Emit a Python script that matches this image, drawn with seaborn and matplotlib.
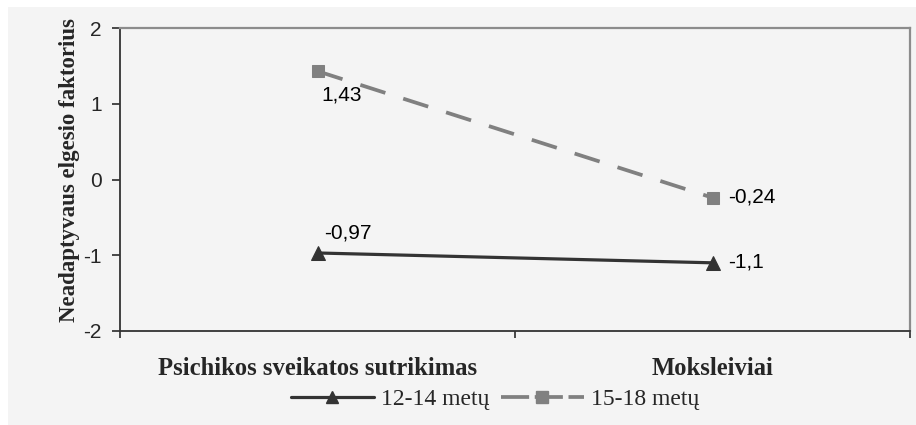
import matplotlib
matplotlib.use("Agg")
import matplotlib.pyplot as plt
import seaborn as sns
import pandas as pd
from matplotlib.lines import Line2D
from matplotlib.patches import Rectangle

categories = ["Psichikos sveikatos sutrikimas", "Moksleiviai"]
series_names = ["12-14 metų", "15-18 metų"]
values_12_14 = [-0.97, -1.1]
values_15_18 = [1.43, -0.24]
labels_12_14 = ["-0,97", "-1,1"]
labels_15_18 = ["1,43", "-0,24"]
y_ticks = [-2, -1, 0, 1, 2]

bg = "#f4f4f4"
W, H = 916, 425
sns.set_theme(style="white")
plt.rcParams["font.family"] = ["Liberation Sans", "DejaVu Sans"]
serif = ["Liberation Serif", "DejaVu Serif"]

fig = plt.figure(figsize=(W / 100, H / 100), dpi=100, facecolor="white")
bgrect = Rectangle((8 / W, 0), 1 - 8 / W, 1 - 7 / H, transform=fig.transFigure,
                   facecolor=bg, edgecolor="none", zorder=-10)
fig.patches.append(bgrect)
ax = fig.add_axes([120 / W, 1 - 331 / H, (910 - 120) / W, (331 - 28) / H])
ax.set_zorder(1)
ax.set_facecolor(bg)

df = pd.DataFrame({
    "x": [0, 1, 0, 1],
    "val": values_12_14 + values_15_18,
    "series": [series_names[0]] * 2 + [series_names[1]] * 2,
})

d1 = df[df.series == series_names[0]]
d2 = df[df.series == series_names[1]]
sns.lineplot(data=d1, x="x", y="val", ax=ax, color="#333333", linewidth=2.3,
             marker="^", markersize=10, markeredgecolor="#333333", legend=False)
sns.lineplot(data=d2, x="x", y="val", ax=ax, color="#808080", linewidth=2.7,
             marker="s", markersize=8, markeredgecolor="#808080", legend=False)
ax.lines[1].set_dashes([7, 5])

fs = 15
px = 0.72  # pixels -> points at 100 dpi
ax.annotate(labels_15_18[0], (0, values_15_18[0]), xytext=(4 * px, -14 * px),
            textcoords="offset points", ha="left", va="top", fontsize=fs, color="black")
ax.annotate(labels_15_18[1], (1, values_15_18[1]), xytext=(16 * px, 1 * px),
            textcoords="offset points", ha="left", va="center", fontsize=fs, color="black")
ax.annotate(labels_12_14[0], (0, values_12_14[0]), xytext=(7 * px, 10 * px),
            textcoords="offset points", ha="left", va="bottom", fontsize=fs, color="black")
ax.annotate(labels_12_14[1], (1, values_12_14[1]), xytext=(16 * px, 1 * px),
            textcoords="offset points", ha="left", va="center", fontsize=fs, color="black")

ax.set_xlim(-0.5, 1.5)
ax.set_ylim(-2, 2)
ax.set_yticks(y_ticks)
ax.set_yticklabels([str(t) for t in y_ticks], fontsize=fs)
ax.set_xticks([-0.5, 0.5, 1.5], minor=False)
ax.set_xticklabels([])
ax.set_xticks([0, 1], minor=True)
ax.set_xticklabels(categories, minor=True, fontsize=17.7, fontweight="bold", family=serif)
ax.tick_params(axis="x", which="minor", length=0, pad=19, bottom=True)
ax.tick_params(axis="x", which="major", length=5, direction="out", color="#333333", bottom=True)
ax.tick_params(axis="y", length=6, direction="out", color="#333333", pad=7, left=True)
ax.set_xlabel("")
ax.set_ylabel("Neadaptyvaus elgesio faktorius", fontsize=16.5, fontweight="bold",
              family=serif)
ax.yaxis.set_label_coords((70 - 120) / 790, (331 - 170) / 303)
ax.yaxis.label.set_va("center")

for side in ["top", "right"]:
    ax.spines[side].set_color("#8c8c8c")
    ax.spines[side].set_linewidth(1.6)
for side in ["left", "bottom"]:
    ax.spines[side].set_color("#333333")
    ax.spines[side].set_linewidth(1.3)

handles = [
    Line2D([], [], color="#333333", linewidth=2.3, marker="^", markersize=9),
    Line2D([], [], color="#808080", linewidth=2.7, marker="s", markersize=8, dashes=[7.5, 1.5]),
]
fig.legend(handles, series_names, loc="center", bbox_to_anchor=(495 / W, 1 - 399 / H),
           ncol=2, frameon=False, handlelength=3.5, columnspacing=0.5, handletextpad=0.3,
           borderpad=0, prop={"family": serif, "size": 17})

fig.savefig("out.png", dpi=100, facecolor="white")
